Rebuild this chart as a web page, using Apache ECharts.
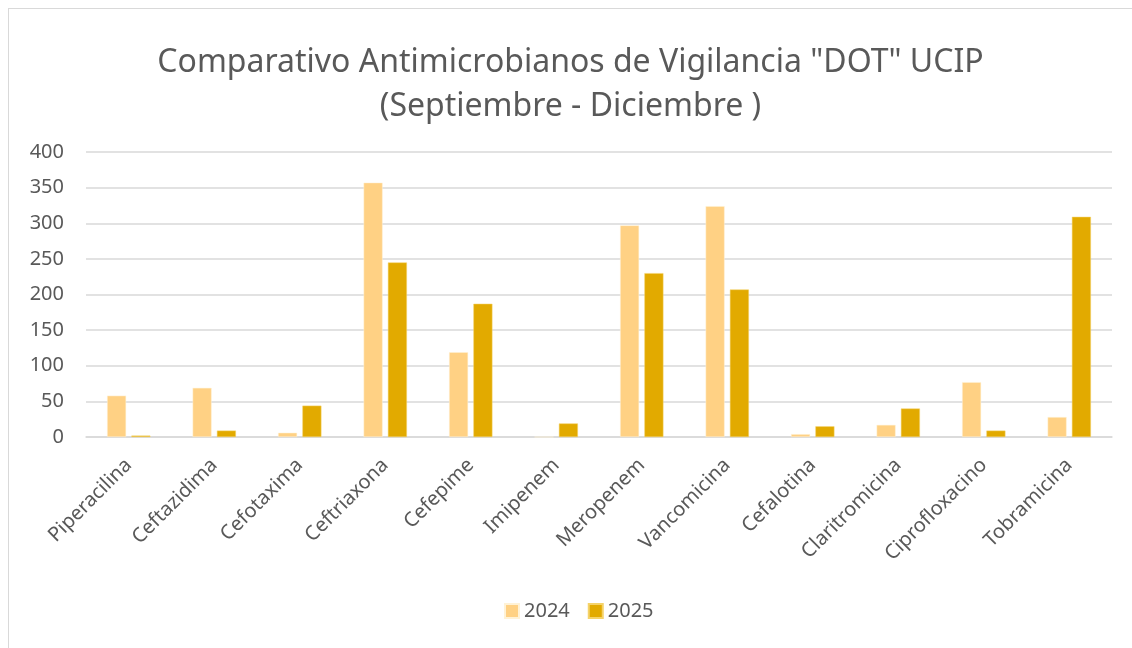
<!DOCTYPE html>
<html>
<head>
<meta charset="utf-8">
<script src="https://cdn.jsdelivr.net/npm/echarts@6/dist/echarts.min.js"></script>
<style>
  html, body { margin: 0; padding: 0; background: #fff; }
  #chart { position: absolute; left: 8px; top: 8px; width: 1124px; height: 640px; border: 1px solid #d9d9d9; border-right: none; border-bottom: none; box-sizing: border-box; }
</style>
</head>
<body>
<div id="chart"></div>
<script>
var categories = ['Piperacilina', 'Ceftazidima', 'Cefotaxima', 'Ceftriaxona', 'Cefepime', 'Imipenem',
  'Meropenem', 'Vancomicina', 'Cefalotina', 'Claritromicina', 'Ciprofloxacino', 'Tobramicina'];
var values2024 = [58, 69, 6, 357, 119, 0, 297, 324, 4, 17, 77, 28];
var values2025 = [2, 9, 44, 245, 187, 19, 230, 207, 15, 40, 9, 309];
var yTicks = [0, 50, 100, 150, 200, 250, 300, 350, 400];

var font = '"Noto Sans", "Open Sans", sans-serif';
var chart = echarts.init(document.getElementById('chart'));
chart.setOption({
  animation: false,
  title: {
    text: 'Comparativo Antimicrobianos de Vigilancia "DOT" UCIP\n(Septiembre - Diciembre )',
    left: 'center',
    top: 27,
    textStyle: { color: '#595959', fontSize: 32, fontWeight: 'normal', fontFamily: font, lineHeight: 44 }
  },
  legend: {
    bottom: 22,
    left: 490,
    itemWidth: 14,
    itemHeight: 14,
    itemGap: 18,
    icon: 'rect',
    textStyle: { color: '#595959', fontSize: 20, fontFamily: font },
    data: ['2024', '2025']
  },
  grid: { left: 77, right: 20, top: 143, bottom: 211, containLabel: false },
  xAxis: {
    type: 'category',
    data: categories,
    axisLine: { lineStyle: { color: '#d9d9d9', width: 1.5 } },
    axisTick: { show: false },
    axisLabel: { rotate: 45, color: '#595959', fontSize: 20, fontFamily: font, margin: 25, interval: 0 }
  },
  yAxis: {
    type: 'value',
    min: yTicks[0],
    max: yTicks[yTicks.length - 1],
    interval: 50,
    axisLine: { show: false },
    axisTick: { show: false },
    axisLabel: { color: '#595959', fontSize: 20, fontFamily: font, margin: 22 },
    splitLine: { lineStyle: { color: '#d9d9d9', width: 1.5 } }
  },
  series: [
    {
      name: '2024', type: 'bar', data: values2024,
      barWidth: 19, barGap: '28%',
      itemStyle: { color: '#FFD184', borderColor: '#fff2d6', borderWidth: 0.5 }
    },
    {
      name: '2025', type: 'bar', data: values2025,
      barWidth: 19,
      itemStyle: { color: '#E2AA00', borderColor: '#f5d36a', borderWidth: 0.5 }
    }
  ]
});
</script>
</body>
</html>
